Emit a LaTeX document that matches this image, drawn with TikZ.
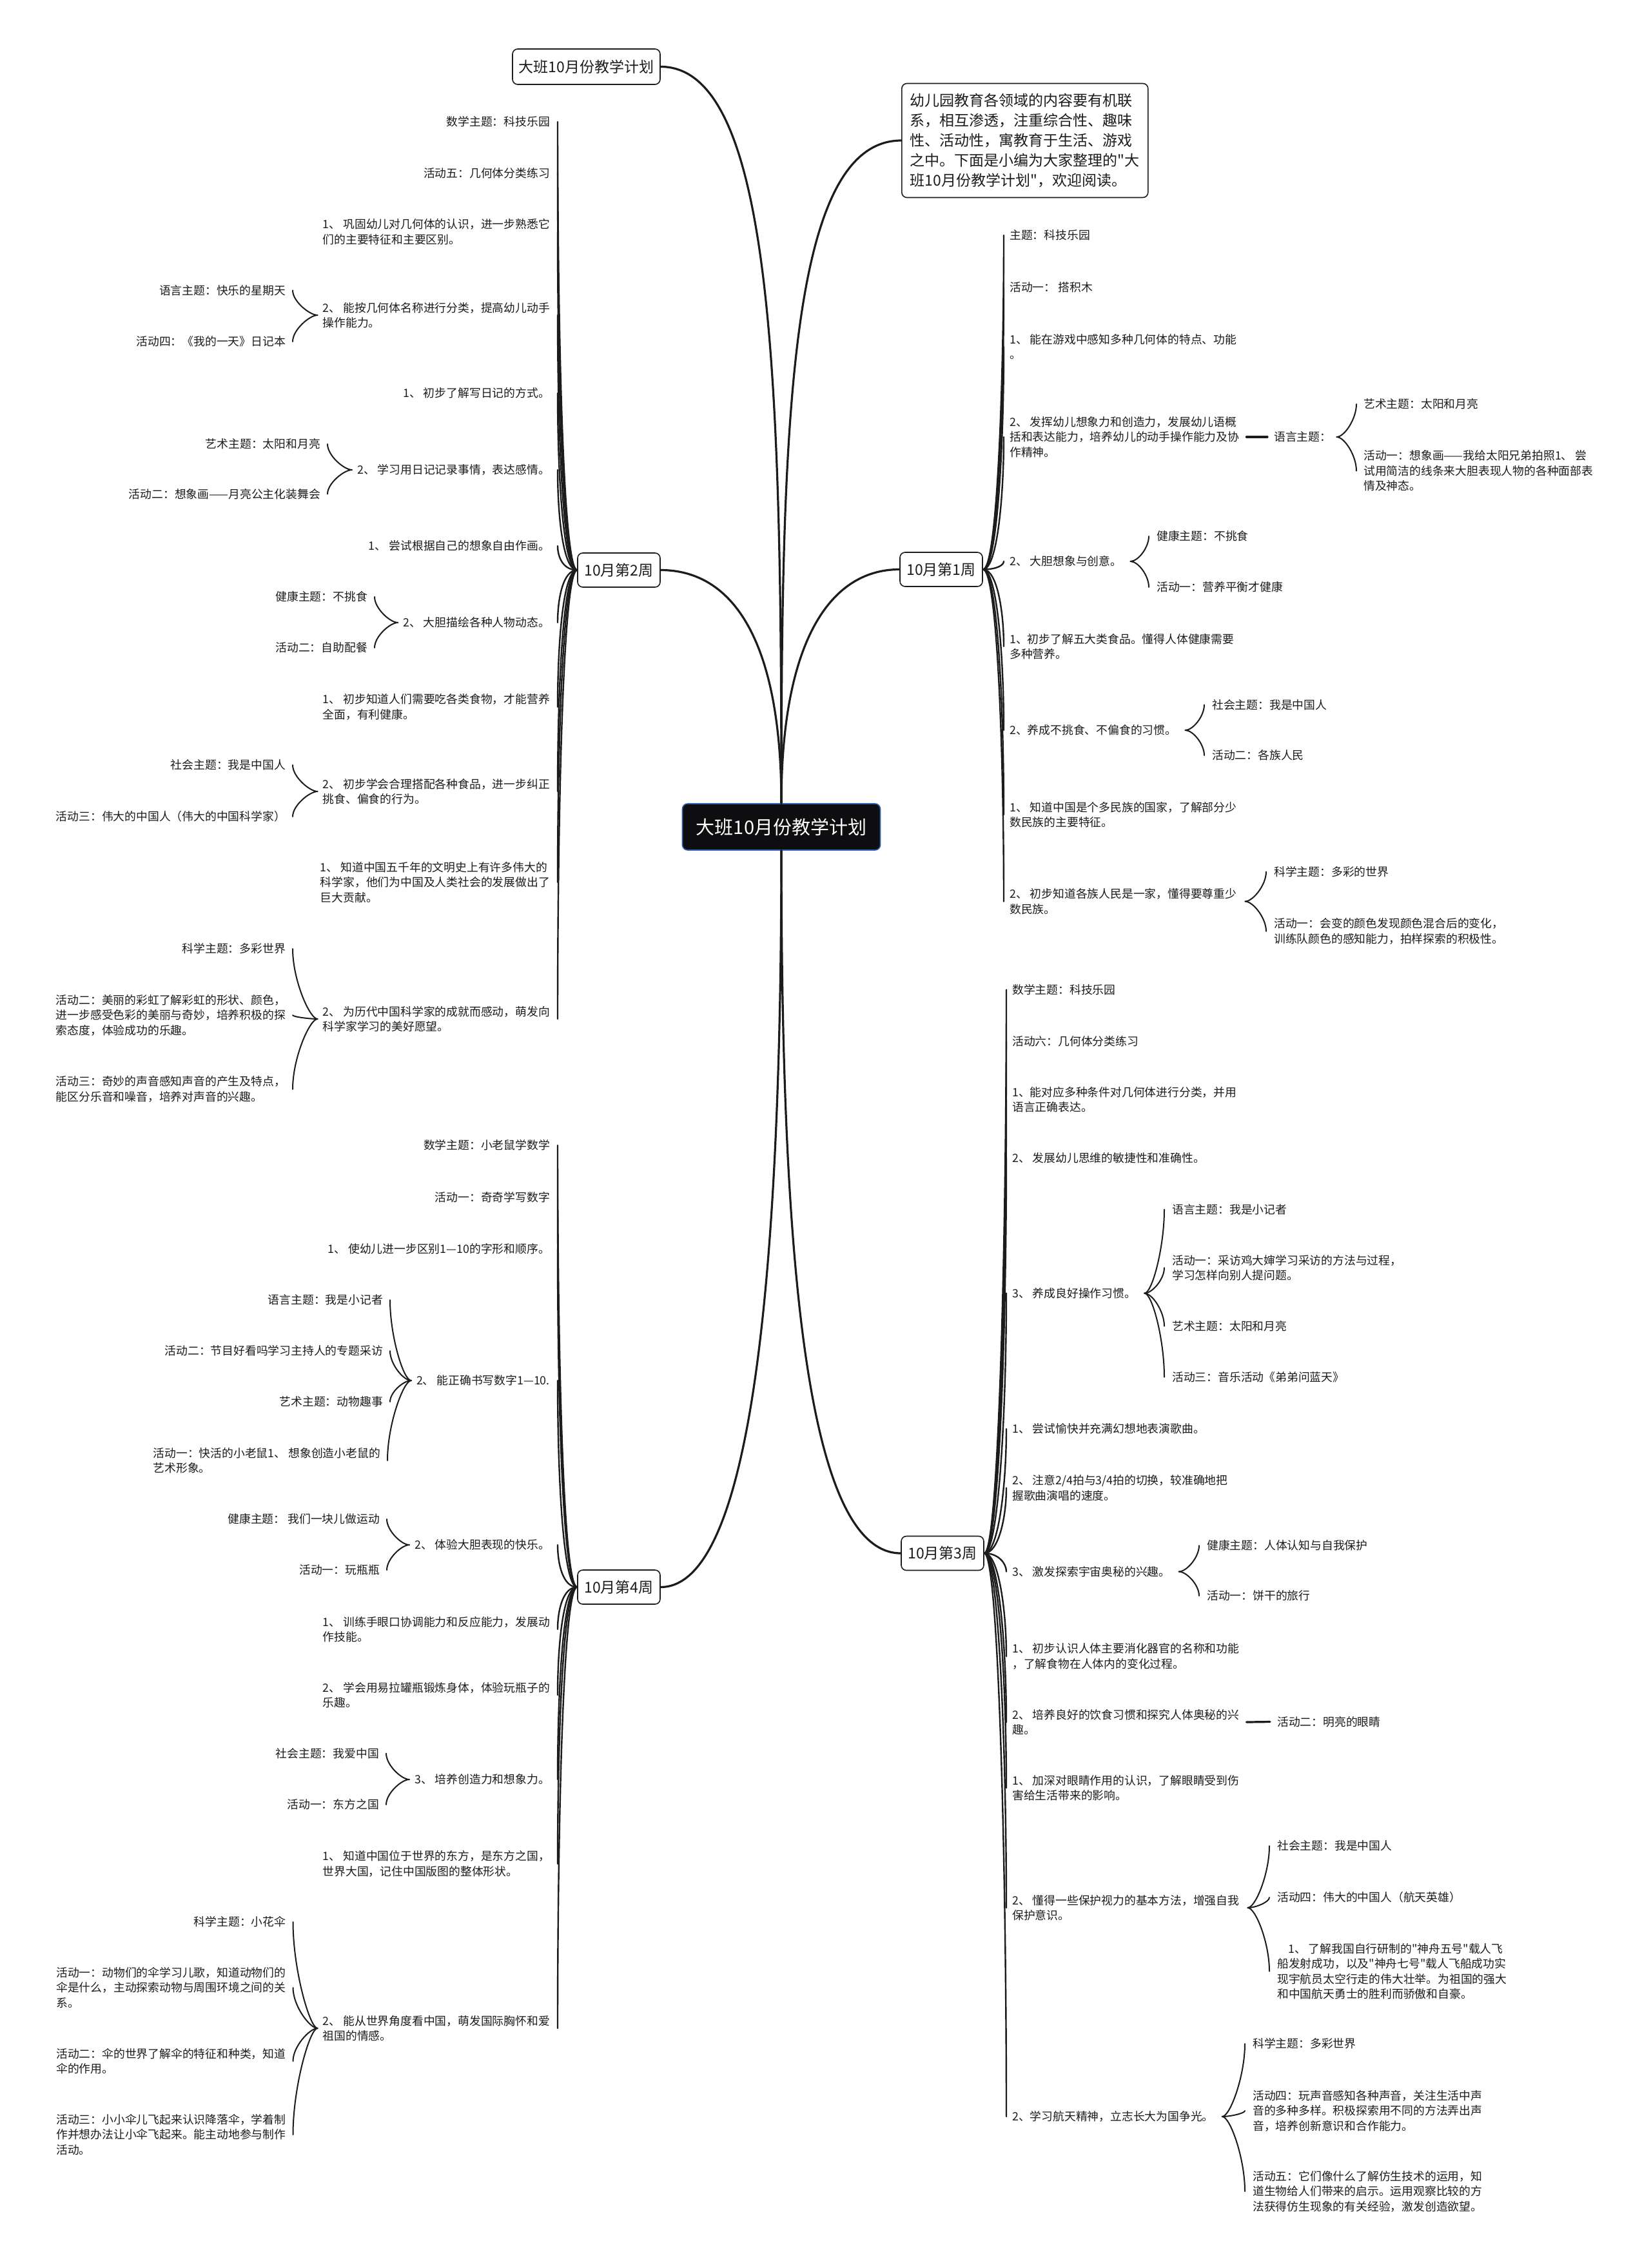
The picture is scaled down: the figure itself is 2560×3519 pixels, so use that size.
\documentclass[tikz,border=0pt]{standalone}
\usepackage{fontspec}
\setmainfont{Noto Sans CJK SC}[Ligatures=TeXOff]
\usetikzlibrary{calc}
\definecolor{ink}{RGB}{28,28,28}
\definecolor{rootfill}{RGB}{14,14,16}
\definecolor{rootline}{RGB}{52,98,180}
\newcommand\mmconn[4][conn]{\draw[#1] let \p1=(#2), \p2=(#3) in (\p1) .. controls ({\x1+(#4)},\y1) and (\x2,{0.45*(\y1)+0.55*(\y2)}) .. (\p2);}
\newcommand\wkL[2]{\mmconn[conn]{#1.west}{$(#2.east)+(12,0)$}{-22pt}}
\newcommand\wkR[2]{\mmconn[conn]{#1.east}{$(#2.west)+(-9,0)$}{22pt}}
\newcommand\brL[2]{\mmconn[brc]{$(#1.west)+(-8,0)$}{$(#2.east)+(11,0)$}{-12pt}}
\newcommand\brR[2]{\mmconn[brc]{$(#1.east)+(13,0)$}{$(#2.west)+(-12,0)$}{12pt}}
\tikzset{
  txt/.style={inner sep=0pt, align=left, text=ink, font=\fontsize{17.8}{23.5}\selectfont},
  L/.style={txt, anchor=east},
  R/.style={txt, anchor=west},
  week/.style={draw=ink, line width=1.6pt, rounded corners=8pt, fill=white, minimum width=128pt, minimum height=53pt, inner sep=0pt, text=ink, font=\fontsize{23}{28}\selectfont},
  titlebox/.style={week, minimum width=229pt, minimum height=55pt},
  introbox/.style={draw=ink, line width=1.6pt, rounded corners=8pt, fill=white, text width=356pt, inner xsep=13pt, inner ysep=12pt, minimum height=177pt, align=left, text=ink, font=\fontsize{23}{31}\selectfont},
  rootbox/.style={draw=rootline, line width=1.6pt, rounded corners=8pt, fill=rootfill, text=white, minimum width=307pt, minimum height=72pt, inner sep=0pt, font=\fontsize{29}{34}\selectfont},
  conn/.style={line width=2.4pt, ink, line cap=round},
  brc/.style={line width=2pt, ink, line cap=round},
  trunk/.style={line width=3.2pt, ink, line cap=round},
}
\begin{document}
\begin{tikzpicture}[x=1pt,y=-1pt]
\fill[white] (0,0) rectangle (2560,3519);
\useasboundingbox (0,0) rectangle (2560,3519);

% ---------- main nodes ----------
\node[rootbox] (root) at (1212,1283) {大班10月份教学计划};
\node[titlebox] (title) at (909.5,103.5) {大班10月份教学计划};
\node[introbox, anchor=west] (intro) at (1398,218) {幼儿园教育各领域的内容要有机联\\系，相互渗透，注重综合性、趣味\\性、活动性，寓教育于生活、游戏\\之中。下面是小编为大家整理的"大\\班10月份教学计划"，欢迎阅读。};
\node[week] (w2) at (960,884.5) {10月第2周};
\node[week] (w1) at (1460,883.5) {10月第1周};
\node[week] (w4) at (960,2462.5) {10月第4周};
\node[week] (w3) at (1462,2410) {10月第3周};

\draw[trunk] (root.north) .. controls (1212,600) and (1200,103.5) .. (title.east);
\draw[trunk] (root.north) .. controls (1212,650) and (1225,218) .. (intro.west);
\draw[trunk] (root.north) .. controls (1212,1000) and (1140,884.5) .. (w2.east);
\draw[trunk] (root.north) .. controls (1212,1000) and (1285,883.5) .. (w1.west);
\draw[trunk] (root.south) .. controls (1212,1950) and (1170,2462.5) .. (w4.east);
\draw[trunk] (root.south) .. controls (1212,1950) and (1250,2410) .. (w3.west);

% ---------- week 2 (left) ----------
\node[L] (c1) at (853,189) {数学主题：科技乐园};
\node[L] (c2) at (853,269) {活动五：几何体分类练习};
\node[L] (c3) at (853,359.5) {1、 巩固幼儿对几何体的认识，进一步熟悉它\\们的主要特征和主要区别。};
\node[L] (c4) at (853,489) {2、 能按几何体名称进行分类，提高幼儿动手\\操作能力。};
\node[L] (c5) at (853,610) {1、 初步了解写日记的方式。};
\node[L] (c6) at (853,729) {2、 学习用日记记录事情，表达感情。};
\node[L] (c7) at (853,847) {1、 尝试根据自己的想象自由作画。};
\node[L] (c8) at (853,966) {2、 大胆描绘各种人物动态。};
\node[L] (c9) at (853,1097) {1、 初步知道人们需要吃各类食物，才能营养\\全面，有利健康。};
\node[L] (c10) at (853,1228) {2、 初步学会合理搭配各种食品，进一步纠正\\挑食、偏食的行为。};
\node[L] (c11) at (853,1369) {1、 知道中国五千年的文明史上有许多伟大的\\科学家，他们为中国及人类社会的发展做出了\\巨大贡献。};
\node[L] (c12) at (853,1581) {2、 为历代中国科学家的成就而感动，萌发向\\科学家学习的美好愿望。};
\wkL{w2}{c1} \wkL{w2}{c2} \wkL{w2}{c3} \wkL{w2}{c4} \wkL{w2}{c5} \wkL{w2}{c6}
\wkL{w2}{c7} \wkL{w2}{c8} \wkL{w2}{c9} \wkL{w2}{c10} \wkL{w2}{c11} \wkL{w2}{c12}

\node[L] (c4a) at (443,450.5) {语言主题：快乐的星期天};
\node[L] (c4b) at (443,530) {活动四：《我的一天》日记本};
\node[L] (c6a) at (497,689) {艺术主题：太阳和月亮};
\node[L] (c6b) at (497,766.5) {活动二：想象画——月亮公主化装舞会};
\node[L] (c8a) at (570,926) {健康主题：不挑食};
\node[L] (c8b) at (570,1005) {活动二：自助配餐};
\node[L] (c10a) at (443,1187) {社会主题：我是中国人};
\node[L] (c10b) at (443,1267) {活动三：伟大的中国人（伟大的中国科学家）};
\node[L] (c12a) at (443,1472) {科学主题：多彩世界};
\node[L] (c12b) at (443,1575) {活动二：美丽的彩虹了解彩虹的形状、颜色，\\进一步感受色彩的美丽与奇妙，培养积极的探\\索态度，体验成功的乐趣。};
\node[L] (c12c) at (443,1690) {活动三：奇妙的声音感知声音的产生及特点，\\能区分乐音和噪音，培养对声音的兴趣。};
\brL{c4}{c4a} \brL{c4}{c4b}
\brL{c6}{c6a} \brL{c6}{c6b}
\brL{c8}{c8a} \brL{c8}{c8b}
\brL{c10}{c10a} \brL{c10}{c10b}
\brL{c12}{c12a} \brL{c12}{c12b} \brL{c12}{c12c}

% ---------- week 4 (left) ----------
\node[L] (d1) at (853,1777) {数学主题：小老鼠学数学};
\node[L] (d2) at (853,1858) {活动一：奇奇学写数字};
\node[L] (d3) at (853,1938) {1、 使幼儿进一步区别1—10的字形和顺序。};
\node[L] (d4) at (853,2142) {2、 能正确书写数字1—10.};
\node[L] (d5) at (853,2397) {2、 体验大胆表现的快乐。};
\node[L] (d6) at (853,2528) {1、 训练手眼口协调能力和反应能力，发展动\\作技能。};
\node[L] (d7) at (853,2630) {2、 学会用易拉罐瓶锻炼身体，体验玩瓶子的\\乐趣。};
\node[L] (d8) at (853,2761) {3、 培养创造力和想象力。};
\node[L] (d9) at (853,2892) {1、 知道中国位于世界的东方，是东方之国，\\世界大国，记住中国版图的整体形状。};
\node[L] (d10) at (853,3147) {2、 能从世界角度看中国，萌发国际胸怀和爱\\祖国的情感。};
\wkL{w4}{d1} \wkL{w4}{d2} \wkL{w4}{d3} \wkL{w4}{d4} \wkL{w4}{d5}
\wkL{w4}{d6} \wkL{w4}{d7} \wkL{w4}{d8} \wkL{w4}{d9} \wkL{w4}{d10}

\node[L] (d4a) at (594,2017) {语言主题：我是小记者};
\node[L] (d4b) at (594,2096) {活动二：节目好看吗学习主持人的专题采访};
\node[L] (d4c) at (594,2175) {艺术主题：动物趣事};
\node[L] (d4d) at (590,2266) {活动一：快活的小老鼠1、 想象创造小老鼠的\\艺术形象。};
\node[L] (d5a) at (589,2357) {健康主题： 我们一块儿做运动};
\node[L] (d5b) at (589,2436) {活动一：玩瓶瓶};
\node[L] (d8a) at (588,2720.5) {社会主题：我爱中国};
\node[L] (d8b) at (588,2800) {活动一：东方之国};
\node[L] (d10a) at (443.5,2982) {科学主题：小花伞};
\node[L] (d10b) at (443.5,3084) {活动一：动物们的伞学习儿歌，知道动物们的\\伞是什么，主动探索动物与周围环境之间的关\\系。};
\node[L] (d10c) at (443.5,3198) {活动二：伞的世界了解伞的特征和种类，知道\\伞的作用。};
\node[L] (d10d) at (443.5,3312) {活动三：小小伞儿飞起来认识降落伞，学着制\\作并想办法让小伞飞起来。能主动地参与制作\\活动。};
\brL{d4}{d4a} \brL{d4}{d4b} \brL{d4}{d4c} \brL{d4}{d4d}
\brL{d5}{d5a} \brL{d5}{d5b}
\brL{d8}{d8a} \brL{d8}{d8b}
\brL{d10}{d10a} \brL{d10}{d10b} \brL{d10}{d10c} \brL{d10}{d10d}

% ---------- week 1 (right) ----------
\node[R] (r1) at (1566,365) {主题：科技乐园};
\node[R] (r2) at (1566,446) {活动一： 搭积木};
\node[R] (r3) at (1566,538) {1、 能在游戏中感知多种几何体的特点、功能\\。};
\node[R] (r4) at (1566,678) {2、 发挥幼儿想象力和创造力，发展幼儿语概\\括和表达能力，培养幼儿的动手操作能力及协\\作精神。};
\node[R] (r5) at (1566,871) {2、 大胆想象与创意。};
\node[R] (r6) at (1566,1003) {1、初步了解五大类食品。懂得人体健康需要\\多种营养。};
\node[R] (r7) at (1566,1133) {2、养成不挑食、不偏食的习惯。};
\node[R] (r8) at (1566,1264) {1、 知道中国是个多民族的国家，了解部分少\\数民族的主要特征。};
\node[R] (r9) at (1566,1398.6) {2、 初步知道各族人民是一家，懂得要尊重少\\数民族。};
\wkR{w1}{r1} \wkR{w1}{r2} \wkR{w1}{r3} \wkR{w1}{r4} \wkR{w1}{r5}
\wkR{w1}{r6} \wkR{w1}{r7} \wkR{w1}{r8} \wkR{w1}{r9}

\node[R] (r4y) at (1976,678) {语言主题：};
\draw[trunk] ($(r4.east)+(11,0)$) -- ($(r4y.west)+(-10,0)$);
\node[R] (r4a) at (2115,627) {艺术主题：太阳和月亮};
\node[R] (r4b) at (2115,730.6) {活动一：想象画——我给太阳兄弟拍照1、 尝\\试用简洁的线条来大胆表现人物的各种面部表\\情及神态。};
\mmconn[brc]{$(r4y.east)+(8,0)$}{$(r4a.west)+(-11,0)$}{12pt}
\mmconn[brc]{$(r4y.east)+(8,0)$}{$(r4b.west)+(-11,0)$}{12pt}
\node[R] (r5a) at (1794,832) {健康主题：不挑食};
\node[R] (r5b) at (1794,911) {活动一：营养平衡才健康};
\node[R] (r7a) at (1880,1093.5) {社会主题：我是中国人};
\node[R] (r7b) at (1880,1172) {活动二：各族人民};
\node[R] (r9a) at (1976,1352.6) {科学主题：多彩的世界};
\node[R] (r9b) at (1976,1445) {活动一：会变的颜色发现颜色混合后的变化，\\训练队颜色的感知能力，拍样探索的积极性。};
\brR{r5}{r5a} \brR{r5}{r5b}
\brR{r7}{r7a} \brR{r7}{r7b}
\brR{r9}{r9a} \brR{r9}{r9b}

% ---------- week 3 (right) ----------
\node[R] (s1) at (1570,1535.7) {数学主题：科技乐园};
\node[R] (s2) at (1570,1616) {活动六：几何体分类练习};
\node[R] (s3) at (1570,1706) {1、能对应多种条件对几何体进行分类，并用\\语言正确表达。};
\node[R] (s4) at (1570,1797) {2、 发展幼儿思维的敏捷性和准确性。};
\node[R] (s5) at (1570,2006.6) {3、 养成良好操作习惯。};
\node[R] (s6) at (1570,2217) {1、 尝试愉快并充满幻想地表演歌曲。};
\node[R] (s7) at (1570,2308.6) {2、 注意2/4拍与3/4拍的切换，较准确地把\\握歌曲演唱的速度。};
\node[R] (s8) at (1570,2438.5) {3、 激发探索宇宙奥秘的兴趣。};
\node[R] (s9) at (1570,2570) {1、 初步认识人体主要消化器官的名称和功能\\，了解食物在人体内的变化过程。};
\node[R] (s10) at (1570,2672) {2、 培养良好的饮食习惯和探究人体奥秘的兴\\趣。};
\node[R] (s11) at (1570,2774) {1、 加深对眼睛作用的认识，了解眼睛受到伤\\害给生活带来的影响。};
\node[R] (s12) at (1570,2960) {2、 懂得一些保护视力的基本方法，增强自我\\保护意识。};
\node[R] (s13) at (1570,3284) {2、学习航天精神，立志长大为国争光。};
\wkR{w3}{s1} \wkR{w3}{s2} \wkR{w3}{s3} \wkR{w3}{s4} \wkR{w3}{s5} \wkR{w3}{s6} \wkR{w3}{s7}
\wkR{w3}{s8} \wkR{w3}{s9} \wkR{w3}{s10} \wkR{w3}{s11} \wkR{w3}{s12} \wkR{w3}{s13}

\node[R] (s5a) at (1818,1876.5) {语言主题：我是小记者};
\node[R] (s5b) at (1818,1967) {活动一：采访鸡大婶学习采访的方法与过程，\\学习怎样向别人提问题。};
\node[R] (s5c) at (1818,2057.6) {艺术主题：太阳和月亮};
\node[R] (s5d) at (1818,2136.7) {活动三：音乐活动《弟弟问蓝天》};
\brR{s5}{s5a} \brR{s5}{s5b} \brR{s5}{s5c} \brR{s5}{s5d}
\node[R] (s8a) at (1872,2398) {健康主题：人体认知与自我保护};
\node[R] (s8b) at (1872,2476) {活动一：饼干的旅行};
\brR{s8}{s8a} \brR{s8}{s8b}
\node[R] (s10y) at (1981,2671.5) {活动二：明亮的眼睛};
\draw[trunk] ($(s10.east)+(11,0)$) -- ($(s10y.west)+(-11,0)$);
\node[R] (s12a) at (1981,2864) {社会主题：我是中国人};
\node[R] (s12b) at (1981,2944) {活动四：伟大的中国人（航天英雄）};
\node[R] (s12c) at (1981,3058.5) {\hspace*{17pt}1、 了解我国自行研制的"神舟五号"载人飞\\船发射成功，以及"神舟七号"载人飞船成功实\\现宇航员太空行走的伟大壮举。为祖国的强大\\和中国航天勇士的胜利而骄傲和自豪。};
\brR{s12}{s12a} \brR{s12}{s12b} \brR{s12}{s12c}
\node[R] (s13a) at (1943,3171) {科学主题：多彩世界};
\node[R] (s13b) at (1943,3275) {活动四：玩声音感知各种声音，关注生活中声\\音的多种多样。积极探索用不同的方法弄出声\\音，培养创新意识和合作能力。};
\node[R] (s13c) at (1943,3400) {活动五：它们像什么了解仿生技术的运用，知\\道生物给人们带来的启示。运用观察比较的方\\法获得仿生现象的有关经验，激发创造欲望。};
\brR{s13}{s13a} \brR{s13}{s13b} \brR{s13}{s13c}
\end{tikzpicture}
\end{document}
